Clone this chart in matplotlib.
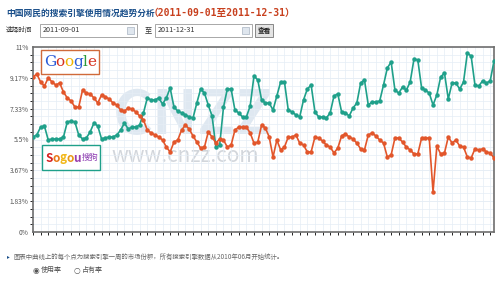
import matplotlib.pyplot as plt
from matplotlib.patches import Rectangle
from matplotlib.ticker import MultipleLocator

plt.rcParams['font.family'] = ['Noto Sans CJK SC', 'DejaVu Sans']

# 2011-09-01 .. 2011-12-31, one point per day (%)
sogou = [5.65, 5.77, 6.24, 6.30, 5.47, 5.53, 5.53, 5.53, 5.65, 6.54,
         6.60, 6.54, 5.77, 5.53, 5.59, 5.95, 6.48, 6.30, 5.53, 5.59,
         5.65, 5.65, 5.77, 6.06, 6.48, 6.12, 6.24, 6.24, 6.36, 7.08,
         7.97, 7.85, 7.85, 7.97, 7.61, 7.97, 8.56, 7.43, 7.19, 7.08,
         6.96, 6.84, 6.78, 7.67, 8.50, 8.26, 7.55, 6.90, 5.05, 5.17,
         7.43, 8.50, 8.50, 7.25, 7.08, 6.84, 6.84, 7.49, 9.28, 9.04,
         7.85, 7.67, 7.67, 7.25, 8.09, 8.92, 8.92, 7.25, 7.14, 6.96,
         6.84, 7.85, 8.50, 8.74, 7.14, 6.84, 6.84, 6.78, 7.08, 8.09,
         8.21, 7.14, 7.08, 6.90, 7.37, 7.67, 8.86, 9.04, 7.55, 7.73,
         7.73, 7.79, 8.74, 9.75, 10.11, 8.44, 8.26, 8.62, 8.44, 8.92,
         10.29, 10.23, 8.56, 8.44, 8.26, 7.55, 8.15, 9.22, 9.45, 7.91,
         8.86, 8.86, 8.50, 8.92, 10.64, 10.46, 8.74, 8.68, 8.98, 8.86,
         8.98, 10.17]
google = [9.22, 9.39, 8.92, 8.68, 9.16, 8.92, 8.74, 8.86, 8.32, 7.97,
          7.79, 7.43, 7.43, 8.44, 8.26, 8.21, 7.97, 7.67, 8.15, 8.03,
          7.91, 7.67, 7.55, 7.25, 7.19, 7.37, 7.31, 7.14, 6.90, 6.66,
          6.06, 5.89, 5.77, 5.65, 5.47, 5.05, 4.76, 5.35, 5.47, 6.06,
          6.36, 6.12, 5.71, 5.35, 4.99, 5.05, 5.95, 5.65, 5.29, 5.53,
          5.47, 5.05, 5.17, 6.06, 6.24, 6.24, 6.24, 5.89, 5.29, 5.35,
          6.36, 6.18, 5.65, 4.46, 5.47, 4.88, 5.05, 5.65, 5.65, 5.77,
          5.29, 5.17, 4.76, 4.76, 5.65, 5.59, 5.41, 5.17, 5.05, 4.70,
          4.99, 5.71, 5.83, 5.65, 5.53, 5.29, 4.94, 4.88, 5.77, 5.89,
          5.71, 5.47, 5.29, 4.46, 4.58, 5.59, 5.59, 5.35, 5.05, 4.88,
          4.64, 4.64, 5.59, 5.59, 5.59, 2.38, 5.11, 4.64, 4.70, 5.65,
          5.29, 5.47, 5.11, 5.05, 4.46, 4.40, 4.94, 4.88, 4.94, 4.76,
          4.70, 4.40]
yticks = [0, 1.83, 3.67, 5.5, 7.33, 9.17, 11]
ylabels = ['0%', '1.83%', '3.67%', '5.5%', '7.33%', '9.17%', '11%']

W, H = 500, 283
ORANGE = '#e2562b'
TEAL = '#1fa08a'


def fx(x):
    return x / W


def fy(y):
    return 1 - y / H


def box(x0, y0, x1, y1, **kw):
    # rectangle given in picture pixels (top-left origin)
    fig.patches.append(Rectangle((fx(x0), fy(y1)), fx(x1 - x0), (y1 - y0) / H,
                                 transform=fig.transFigure, **kw))


fig = plt.figure(figsize=(5, 2.83), dpi=100)
fig.patch.set_facecolor('white')

# header
fig.text(fx(6), fy(13), '中国网民的搜索引擎使用情况趋势分析', fontsize=6.3,
         fontweight='bold', color='#1a4f8a', va='center')
fig.text(fx(149), fy(13), '（2011-09-01至2011-12-31）', fontsize=7,
         fontweight='bold', color='#c8401e', va='center',
         family=['DejaVu Sans Mono', 'Noto Sans CJK SC'])
fig.text(fx(6), fy(30), '选择时间', fontsize=4.8, color='#333333', va='center')
for x0, x1, s in [(40, 137, '2011-09-01'), (155, 252, '2011-12-31')]:
    box(x0, 24, x1, 37, fc='white', ec='#9a9a9a', lw=0.6)
    box(x1 - 10, 27, x1 - 3, 34, fc='#dfe6ee', ec='#a8b4c2', lw=0.5)
    fig.text(fx(x0 + 3), fy(30.5), s, fontsize=5.2, color='#333333', va='center')
fig.text(fx(145), fy(30), '至', fontsize=5.2, color='#333333', va='center')
box(255, 24, 273, 37, fc='#e4e4e4', ec='#777777', lw=0.6)
fig.text(fx(264), fy(30.5), '查看', fontsize=4.8, fontweight='bold',
         color='#222222', va='center', ha='center')

# chart
ax = fig.add_axes([fx(33), fy(232), fx(461), 185 / H])
days = list(range(len(sogou)))
ax.plot(days, sogou, color=TEAL, lw=1.2, marker='o', ms=2.2, zorder=4)
ax.plot(days, google, color=ORANGE, lw=1.2, marker='o', ms=2.2, zorder=4)
ax.set_xlim(0, len(sogou) - 1)
ax.set_ylim(0, 11)
ax.set_yticks(yticks)
ax.set_yticklabels(ylabels, fontsize=4.8, color='#555555')
ax.set_xticks([])
ax.tick_params(axis='y', length=0, pad=3)
ax.xaxis.set_minor_locator(MultipleLocator(2))
ax.yaxis.set_minor_locator(MultipleLocator(11 / 24))
ax.grid(which='minor', color='#e5edf5', lw=0.5)
ax.grid(which='major', axis='y', color='#e5edf5', lw=0.5)
for side in ax.spines.values():
    side.set_color('#6e6e6e')
    side.set_linewidth(1.2)

# watermark
ax.text(42, 6.9, 'CNZZ', fontsize=44, fontweight='bold', color='#b9cde0',
        alpha=0.45, ha='center', va='center', zorder=1)
ax.text(40, 4.5, 'www.cnzz.com', fontsize=15, color='#c4c9d0',
        alpha=0.75, ha='center', va='center', zorder=1)

# logos
box(41, 50, 99, 74, fc='white', ec='#d06a3a', lw=1.0, zorder=5)
gx = 44
for ch, col in zip('Google', ['#2a5bd7', '#d6301f', '#f0b400',
                              '#2a5bd7', '#2a9a3a', '#d6301f']):
    fig.text(fx(gx), fy(62), ch, fontsize=11, family='DejaVu Serif',
             color=col, va='center', zorder=6)
    gx += {'G': 11.5, 'o': 9, 'g': 9, 'l': 4.5, 'e': 8}[ch]
box(42, 145, 100, 170, fc='white', ec=TEAL, lw=1.0, zorder=5)
sx = 45
for ch, col in zip('Sogou', ['#d6201f', '#e87818', '#f2b81a',
                             '#e89a18', '#9a3fb0']):
    fig.text(fx(sx), fy(158), ch, fontsize=8.5, fontweight='bold',
             color=col, va='center', zorder=6)
    sx += {'S': 7.5, 'o': 7, 'g': 7, 'u': 7}[ch]
fig.text(fx(sx + 1), fy(157), '搜狗', fontsize=6, color='#8a3ab0',
         va='center', zorder=6)

# footer
fig.text(fx(7), fy(257), '▸', fontsize=4, color='#1a4f8a', va='center',
         family='DejaVu Sans')
fig.text(fx(13), fy(257),
         '图表中曲线上的每个点为搜索引擎一周的市场份额，所有搜索引擎数据从2010年06月开始统计。',
         fontsize=4.6, color='#666666', va='center')
fig.text(fx(33), fy(270), '◉', fontsize=5.5, color='#555555', va='center',
         family='DejaVu Sans')
fig.text(fx(41), fy(270), '使用率', fontsize=5, color='#555555', va='center')
fig.text(fx(74), fy(270), '○', fontsize=5.5, color='#555555', va='center',
         family='DejaVu Sans')
fig.text(fx(82), fy(270), '占有率', fontsize=5, color='#555555', va='center')

fig.savefig('out.png', dpi=100)
